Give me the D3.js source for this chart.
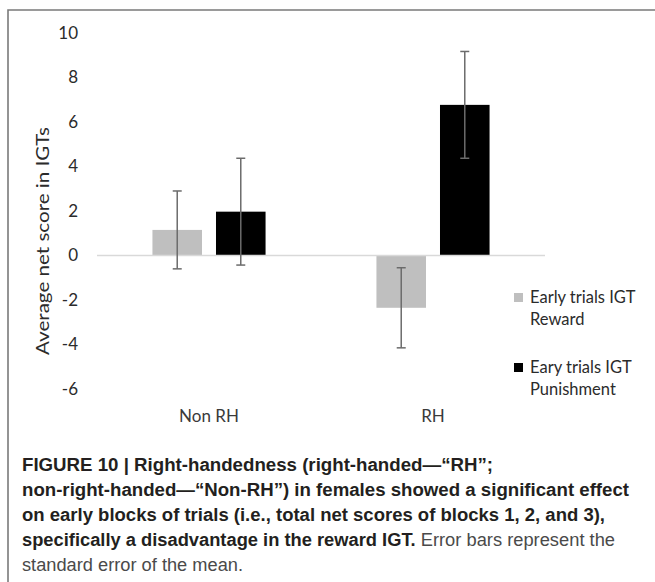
<!DOCTYPE html>
<html>
<head>
<meta charset="utf-8">
<script src="https://cdn.jsdelivr.net/npm/d3@7"></script>
<style>
  body { margin: 0; background: #fff; }
  svg { display: block; }
</style>
</head>
<body>
<svg id="chart" width="655" height="582"></svg>
<script>
// data
var categories = ["Non RH", "RH"];
var seriesNames = ["Early trials IGT Reward", "Eary trials IGT Punishment"];
var rewardValues = [1.15, -2.35];
var rewardErrors = [1.75, 1.8];
var punishmentValues = [1.97, 6.77];
var punishmentErrors = [2.4, 2.4];
var yTicks = [-6, -4, -2, 0, 2, 4, 6, 8, 10];
var legendLines = [["Early trials IGT", "Reward"], ["Eary trials IGT", "Punishment"]];
var seriesColors = ["#bfbfbf", "#000000"];

function drawChart(svg) {
    let left = 97, right = 545, top = 33, bottom = 389;
    let font = "Lato, 'Open Sans', sans-serif";

    // frame of the figure box (cut at right and bottom)
    svg.append("path")
        .attr("d", "M8,582 L8,10 L655,10")
        .style("fill", "none")
        .style("stroke", "#7a7a7a")
        .style("stroke-width", 1.6);

    let y = d3.scaleLinear().domain([-6, 10]).range([bottom, top]);
    let x0 = d3.scaleBand().domain(categories).range([left, right])
        .paddingInner(0.495).paddingOuter(0.2475);
    let x1 = d3.scaleBand().domain(seriesNames).range([0, x0.bandwidth()]).paddingInner(0.22);

    // y axis, labels only
    let yAxis = svg.append("g")
        .attr("transform", "translate(83,0)")
        .call(d3.axisLeft(y).tickValues(yTicks).tickSize(0).tickPadding(5)
            .tickFormat(function (d) { return String(d); }));
    yAxis.select(".domain").remove();
    yAxis.selectAll("text")
        .style("font-family", font)
        .style("font-size", "17px")
        .style("fill", "#2b2b2b");

    svg.append("text")
        .attr("transform", "translate(49,241) rotate(-90)")
        .attr("text-anchor", "middle")
        .attr("textLength", 228)
        .attr("lengthAdjust", "spacingAndGlyphs")
        .style("font-family", font)
        .style("font-size", "18px")
        .style("fill", "#2b2b2b")
        .text("Average net score in IGTs");

    // bars
    let rows = [];
    categories.forEach(function (c, i) {
        rows.push({ cat: c, s: seriesNames[0], v: rewardValues[i], e: rewardErrors[i], color: seriesColors[0] });
        rows.push({ cat: c, s: seriesNames[1], v: punishmentValues[i], e: punishmentErrors[i], color: seriesColors[1] });
    });

    svg.append("g").selectAll("rect")
        .data(rows)
        .enter().append("rect")
        .attr("x", function (d) { return x0(d.cat) + x1(d.s); })
        .attr("width", x1.bandwidth())
        .attr("y", function (d) { return y(Math.max(0, d.v)); })
        .attr("height", function (d) { return Math.abs(y(d.v) - y(0)); })
        .style("fill", function (d) { return d.color; });

    // zero line
    svg.append("line")
        .attr("x1", left).attr("x2", right)
        .attr("y1", y(0)).attr("y2", y(0))
        .style("stroke", "#d9d9d9")
        .style("stroke-width", 1.5);

    // error bars
    let err = svg.append("g")
        .style("stroke", "#6b6b6b")
        .style("stroke-width", 1.5);
    rows.forEach(function (d) {
        let cx = x0(d.cat) + x1(d.s) + x1.bandwidth() / 2;
        err.append("line").attr("x1", cx).attr("x2", cx)
            .attr("y1", y(d.v + d.e)).attr("y2", y(d.v - d.e));
        err.append("line").attr("x1", cx - 4.5).attr("x2", cx + 4.5)
            .attr("y1", y(d.v + d.e)).attr("y2", y(d.v + d.e));
        err.append("line").attr("x1", cx - 4.5).attr("x2", cx + 4.5)
            .attr("y1", y(d.v - d.e)).attr("y2", y(d.v - d.e));
    });

    // category labels
    svg.append("g").selectAll("text")
        .data(categories)
        .enter().append("text")
        .attr("x", function (d) { return x0(d) + x0.bandwidth() / 2; })
        .attr("y", 422)
        .attr("text-anchor", "middle")
        .style("font-family", font)
        .style("font-size", "17px")
        .style("fill", "#3a3a3a")
        .text(function (d) { return d; });

    // legend
    let legendTop = [293, 363];
    let legend = svg.append("g").selectAll("g")
        .data(seriesNames)
        .enter().append("g")
        .attr("transform", function (d, i) { return "translate(514," + legendTop[i] + ")"; });
    legend.append("rect")
        .attr("width", 9).attr("height", 9)
        .style("fill", function (d, i) { return seriesColors[i]; });
    legend.append("text")
        .style("font-family", font)
        .style("font-size", "16.5px")
        .style("fill", "#2b2b2b")
        .selectAll("tspan")
        .data(function (d, i) { return legendLines[i]; })
        .enter().append("tspan")
        .attr("x", 16)
        .attr("y", function (d, j) { return 10 + j * 21.5; })
        .text(function (d) { return d; });

    // caption
    let caption = [
        { y: 471, w: 471, parts: [["FIGURE 10 | Right-handedness (right-handed\u2014\u201cRH\u201d;", true]] },
        { y: 496, w: 607, parts: [["non-right-handed\u2014\u201cNon-RH\u201d) in females showed a significant effect", true]] },
        { y: 521, w: 583, parts: [["on early blocks of trials (i.e., total net scores of blocks 1, 2, and 3),", true]] },
        { y: 546, w: 593, parts: [["specifically a disadvantage in the reward IGT.", true], [" Error bars represent the", false]] },
        { y: 571, w: 221, parts: [["standard error of the mean.", false]] }
    ];
    let capText = svg.append("g").selectAll("text")
        .data(caption)
        .enter().append("text")
        .attr("x", 22)
        .attr("y", function (d) { return d.y; })
        .attr("textLength", function (d) { return d.w; })
        .attr("lengthAdjust", "spacingAndGlyphs")
        .style("font-family", "'Liberation Sans', Arial, sans-serif")
        .style("font-size", "17.5px");
    capText.selectAll("tspan")
        .data(function (d) { return d.parts; })
        .enter().append("tspan")
        .style("font-weight", function (p) { return p[1] ? "bold" : "normal"; })
        .style("fill", function (p) { return p[1] ? "#231f20" : "#4a4a4a"; })
        .text(function (p) { return p[0]; });
}

drawChart(d3.select("#chart"));
</script>
</body>
</html>
